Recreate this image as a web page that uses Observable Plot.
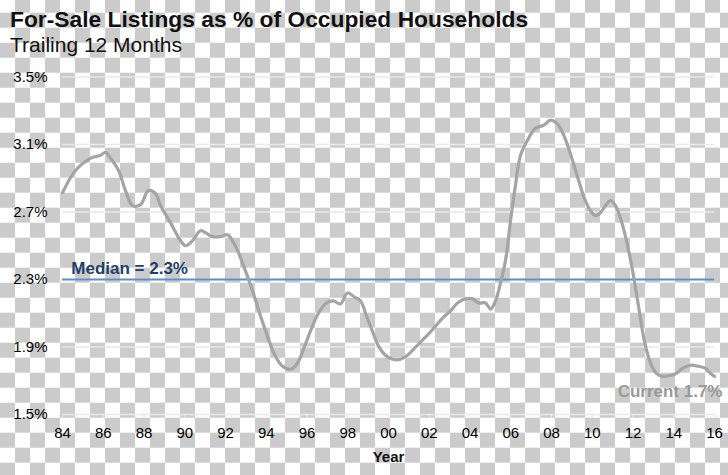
<!DOCTYPE html>
<html>
<head>
<meta charset="utf-8">
<script src="https://cdn.jsdelivr.net/npm/d3@7"></script>
<script src="https://cdn.jsdelivr.net/npm/@observablehq/plot@0.6"></script>
<style>
  html, body { margin: 0; padding: 0; }
  body {
    width: 728px; height: 475px; overflow: hidden;
    background: repeating-conic-gradient(#cbcbcb 0 25%, #ffffff 0 50%) 0 -2.3px / 30px 30px;
    font-family: "Liberation Sans", Arial, sans-serif;
  }
  #wrap { position: relative; width: 728px; height: 475px; }
  #title { position: absolute; left: 10px; top: 8px; font-size: 22.8px; line-height: 22.5px; font-weight: bold; color: #111; white-space: nowrap; }
  #subtitle { position: absolute; left: 10px; top: 34px; font-size: 21px; line-height: 21px; color: #111; white-space: nowrap; }
  #chart { position: absolute; left: 0; top: 0; }
</style>
</head>
<body>
<div id="wrap">
  <div id="chart"></div>
  <div id="title">For-Sale Listings as % of Occupied Households</div>
  <div id="subtitle">Trailing 12 Months</div>
</div>
<script>
const years = [1984.00,1984.64,1985.37,1985.87,1986.11,1986.36,1986.75,1987.09,1987.44,1987.83,
  1988.22,1988.56,1988.81,1989.30,1989.79,1990.04,1990.38,1990.77,1991.02,1991.36,
  1991.75,1992.10,1992.34,1992.64,1992.98,1993.33,1993.72,1994.11,1994.45,1994.80,
  1995.19,1995.53,1995.83,1996.17,1996.56,1996.96,1997.30,1997.64,1997.99,1998.33,
  1998.63,1998.92,1999.21,1999.51,1999.85,2000.20,2000.59,2000.93,2001.28,2001.62,
  2001.96,2002.31,2002.70,2003.04,2003.39,2003.78,2004.12,2004.42,2004.76,2005.01,
  2005.25,2005.50,2005.74,2005.99,2006.23,2006.48,2006.82,2007.21,2007.61,2007.95,
  2008.20,2008.44,2008.74,2009.03,2009.33,2009.62,2009.91,2010.16,2010.40,2010.65,
  2010.90,2011.14,2011.39,2011.68,2011.98,2012.27,2012.56,2012.86,2013.15,2013.45,
  2013.84,2014.13,2014.43,2014.82,2015.21,2015.56,2015.80,2016.00];
const values = [2.815,2.946,3.018,3.036,3.054,3.018,2.946,2.827,2.738,2.744,
  2.827,2.810,2.738,2.637,2.530,2.500,2.530,2.589,2.577,2.554,
  2.554,2.565,2.530,2.458,2.351,2.232,2.083,1.946,1.845,1.786,
  1.768,1.804,1.887,1.994,2.101,2.161,2.173,2.155,2.220,2.196,
  2.173,2.083,1.994,1.905,1.851,1.827,1.827,1.851,1.893,1.935,
  1.976,2.024,2.077,2.113,2.161,2.185,2.185,2.161,2.161,2.125,
  2.173,2.280,2.411,2.649,2.857,3.036,3.125,3.196,3.214,3.244,
  3.232,3.196,3.113,3.006,2.887,2.780,2.708,2.679,2.696,2.738,
  2.768,2.738,2.661,2.530,2.351,2.143,1.935,1.804,1.744,1.726,
  1.732,1.744,1.774,1.792,1.786,1.774,1.744,1.726];
const yTicks = [1.5, 1.9, 2.3, 2.7, 3.1, 3.5];
const xTicks = [1984,1986,1988,1990,1992,1994,1996,1998,2000,2002,2004,2006,2008,2010,2012,2014,2016];
const median = 2.3;
const current = 1.7;
const xLabel = "Year";

const data = years.map((y, i) => ({year: y, value: values[i]}));
const last = data[data.length - 1];

const chart = Plot.plot({
  width: 728,
  height: 475,
  marginLeft: 62,
  marginRight: 14,
  marginTop: 76.5,
  marginBottom: 61,
  style: {background: "transparent", fontFamily: "'Liberation Sans', Arial, sans-serif", fontSize: "15px", color: "#000", overflow: "visible"},
  x: {domain: [1984, 2016]},
  y: {domain: [1.5, 3.5]},
  marks: [
    Plot.ruleY(yTicks, {stroke: "#e9e9e9", strokeWidth: 1.5}),
    Plot.axisY({ticks: yTicks, tickSize: 0, tickPadding: 15, tickFormat: d => d.toFixed(1) + "%", label: null, fill: "#000"}),
    Plot.axisX({ticks: xTicks, tickSize: 3, tickPadding: 9.5, stroke: "#e9e9e9", tickFormat: d => String(d % 100).padStart(2, "0"), label: null, fill: "#000"}),
    Plot.text([xLabel], {frameAnchor: "bottom", dy: 47, fontWeight: "bold", fontSize: 15, fill: "#111"}),
    Plot.ruleY([median], {stroke: "#5b8fc9", strokeWidth: 2}),
    Plot.text([median], {x: 1984.43, y: d => d, text: d => `Median = ${d}%`, textAnchor: "start", lineAnchor: "bottom", dy: -6, fontWeight: "bold", fontSize: 17, fill: "#1f4068"}),
    Plot.line(data, {x: "year", y: "value", stroke: "#a4a4a4", strokeWidth: 3.2, curve: "catmull-rom"}),
    Plot.text([last], {x: "year", y: "value", text: () => `Current ${current}%`, textAnchor: "end", lineAnchor: "bottom", dx: 8, dy: 21, fontWeight: "bold", fontSize: 17, fill: "#999"})
  ]
});
document.getElementById("chart").appendChild(chart);
</script>
</body>
</html>
